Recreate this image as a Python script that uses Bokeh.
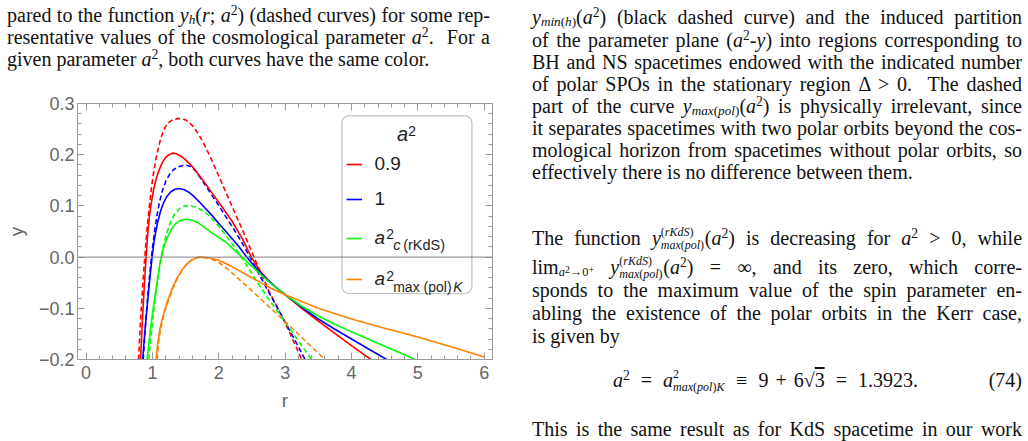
from bokeh.plotting import figure
from bokeh.models import (Div, FixedTicker, CustomJSTickFormatter, LinearAxis, Span,
                          Legend, LegendItem, Label, BoxAnnotation, Range1d)
from bokeh.layouts import row, column
from bokeh.embed import file_html
from bokeh.resources import INLINE

# ---------------- data ----------------
# a^2 = 0.9 : y_pol (solid) and y_h (dashed)
red_pol_r = [0.82, 0.85, 0.875, 0.904, 0.925, 0.95, 0.98, 1.02, 1.06, 1.10, 1.15, 1.20, 1.25, 1.30,
             1.36, 1.43, 1.50, 1.60, 1.75, 1.90, 2.05, 2.20, 2.35, 2.49, 2.62, 2.75, 2.88, 3.0,
             3.25, 3.5, 3.75, 4.0, 4.29]
red_pol_y = [-0.200, -0.120, -0.060, 0.000, 0.040, 0.075, 0.104, 0.134, 0.155, 0.170, 0.185, 0.195, 0.200, 0.203,
             0.202, 0.197, 0.190, 0.177, 0.152, 0.125, 0.098, 0.070, 0.037, 0.000, -0.027, -0.046, -0.061, -0.0734,
             -0.100, -0.125, -0.149, -0.173, -0.200]
red_h_r = [0.79, 0.82, 0.85, 0.875, 0.90, 0.925, 0.953, 0.985, 1.018, 1.06, 1.119, 1.17, 1.22, 1.30, 1.395,
           1.50, 1.596, 1.696, 1.80, 1.898, 2.00, 2.098, 2.20, 2.298, 2.40, 2.53, 2.75, 3.0, 3.25]
red_h_y = [-0.200, -0.125, -0.062, -0.016, 0.026, 0.064, 0.100, 0.136, 0.166, 0.197, 0.229, 0.248, 0.260, 0.268, 0.271,
           0.268, 0.258, 0.240, 0.215, 0.188, 0.158, 0.129, 0.099, 0.070, 0.040, 0.000, -0.065, -0.128, -0.200]

# a^2 = 1
blue_pol_r = [0.852, 0.89, 0.928, 0.96, 0.994, 1.02, 1.044, 1.08, 1.12, 1.17, 1.22, 1.28, 1.34, 1.395,
              1.47, 1.545, 1.62, 1.696, 1.80, 1.90, 1.997, 2.10, 2.20, 2.30, 2.42, 2.55, 2.70, 2.85, 3.0,
              3.25, 3.5, 3.75, 4.0, 4.25, 4.53]
blue_pol_y = [-0.200, -0.138, -0.085, -0.042, 0.000, 0.027, 0.046, 0.069, 0.089, 0.107, 0.119, 0.128, 0.1325, 0.134,
              0.132, 0.127, 0.119, 0.109, 0.095, 0.081, 0.066, 0.051, 0.036, 0.021, 0.000, -0.020, -0.040, -0.058, -0.0734,
              -0.098, -0.121, -0.141, -0.160, -0.179, -0.200]
blue_h_r = [0.86, 0.89, 0.92, 0.95, 0.98, 1.01, 1.04, 1.07, 1.10, 1.15, 1.20, 1.26, 1.32, 1.40, 1.495,
            1.58, 1.66, 1.747, 1.85, 1.997, 2.10, 2.248, 2.349, 2.47, 2.60, 2.75, 2.88, 3.0, 3.15, 3.30]
blue_h_y = [-0.200, -0.142, -0.090, -0.045, -0.006, 0.028, 0.058, 0.083, 0.104, 0.130, 0.148, 0.162, 0.171, 0.177, 0.180,
            0.177, 0.167, 0.150, 0.130, 0.101, 0.080, 0.050, 0.028, 0.000, -0.032, -0.068, -0.098, -0.127, -0.163, -0.200]

# a^2 = a^2_c(rKdS)
green_pol_r = [0.918, 0.96, 1.00, 1.04, 1.08, 1.12, 1.16, 1.20, 1.244, 1.30, 1.345, 1.40, 1.46, 1.52,
               1.60, 1.70, 1.797, 1.90, 2.00, 2.098, 2.20, 2.35, 2.50, 2.65, 2.80, 3.0,
               3.25, 3.5, 3.75, 4.0, 4.25, 4.5, 4.75, 4.96]
green_pol_y = [-0.200, -0.152, -0.111, -0.075, -0.040, -0.007, 0.015, 0.031, 0.044, 0.057, 0.065, 0.070, 0.073, 0.074,
               0.072, 0.066, 0.057, 0.047, 0.038, 0.030, 0.018, 0.000, -0.018, -0.036, -0.053, -0.0734,
               -0.096, -0.115, -0.131, -0.146, -0.160, -0.174, -0.188, -0.200]
green_h_r = [0.943, 0.98, 1.02, 1.06, 1.10, 1.14, 1.169, 1.21, 1.25, 1.295, 1.35, 1.42, 1.48, 1.545,
             1.65, 1.75, 1.846, 1.95, 2.098, 2.25, 2.40, 2.55, 2.75, 3.0, 3.2, 3.40]
green_h_y = [-0.200, -0.152, -0.104, -0.061, -0.024, 0.005, 0.024, 0.045, 0.061, 0.075, 0.087, 0.096, 0.0995, 0.1005,
             0.098, 0.091, 0.082, 0.068, 0.044, 0.017, -0.012, -0.043, -0.082, -0.127, -0.164, -0.200]

# a^2 = a^2_max(pol)K
orange_pol_r = [1.054, 1.08, 1.11, 1.14, 1.18, 1.23, 1.295, 1.37, 1.446, 1.52, 1.60, 1.67, 1.74,
                1.85, 1.95, 2.05, 2.15, 2.25, 2.37, 2.50, 2.65, 2.80, 3.0, 3.5, 4.0, 4.5, 5.0, 5.5, 6.0]
orange_pol_y = [-0.200, -0.168, -0.142, -0.124, -0.105, -0.085, -0.062, -0.041, -0.025, -0.013, -0.005, -0.001, 0.000,
                -0.0012, -0.0042, -0.009, -0.0155, -0.0225, -0.031, -0.0405, -0.0513, -0.0618, -0.0734,
                -0.100, -0.121, -0.139, -0.156, -0.175, -0.195]
orange_h_r = [1.07, 1.09, 1.12, 1.15, 1.19, 1.24, 1.30, 1.37, 1.45, 1.52, 1.60, 1.67, 1.74,
              1.85, 1.95, 2.05, 2.15, 2.25, 2.37, 2.50, 2.75, 3.0, 3.25, 3.60]
orange_h_y = [-0.200, -0.170, -0.142, -0.124, -0.105, -0.085, -0.063, -0.043, -0.025, -0.013, -0.005, -0.001, 0.000,
              -0.0025, -0.007, -0.015, -0.025, -0.037, -0.051, -0.066, -0.096, -0.126, -0.157, -0.200]

x_ticks = [0, 1, 2, 3, 4, 5, 6]
y_ticks = [-0.2, -0.1, 0.0, 0.1, 0.2, 0.3]
legend_values = ["0.9", "1"]

# ---------------- styling ----------------
SANS = "Liberation Sans"
FRAME = "#9a9a9a"
TICKTXT = "#666666"
RED, BLUE, GREEN, ORANGE = "#ff0000", "#0000ff", "#00ff00", "#ff8000"
LW = 1.6
DASH = "5 3"

p = figure(width=520, height=349, x_range=Range1d(-0.13, 6.125), y_range=Range1d(-0.2, 0.3),
           output_backend="svg", toolbar_location=None,
           min_border_left=77, min_border_right=28, min_border_top=33, min_border_bottom=60,
           background_fill_color="white", border_fill_color="white")
p.grid.visible = False
p.outline_line_color = FRAME

x_minor = [round(0.2 * k, 2) for k in range(0, 31) if k % 5]
y_minor = [round(-0.2 + 0.02 * k, 3) for k in range(0, 26) if k % 5]
xt = FixedTicker(ticks=x_ticks, minor_ticks=x_minor)
yt = FixedTicker(ticks=y_ticks, minor_ticks=y_minor)
blank = CustomJSTickFormatter(code="return ''")
yfmt = CustomJSTickFormatter(code="return (tick < -1e-9 ? '\u2212' : '') + Math.abs(tick).toFixed(1);")
xfmt = CustomJSTickFormatter(code="return tick.toFixed(0);")


def style_axis(ax):
    ax.axis_line_color = FRAME
    ax.major_tick_line_color = FRAME
    ax.minor_tick_line_color = FRAME
    ax.major_tick_in = 7
    ax.major_tick_out = 0
    ax.minor_tick_in = 4
    ax.minor_tick_out = 0
    ax.major_label_text_font = SANS
    ax.major_label_text_font_size = "18px"
    ax.major_label_text_color = TICKTXT
    ax.axis_label_text_font = SANS
    ax.axis_label_text_font_size = "19px"
    ax.axis_label_text_font_style = "normal"
    ax.axis_label_text_color = TICKTXT


xa = p.xaxis[0]
ya = p.yaxis[0]
xa.ticker, xa.formatter, xa.axis_label = xt, xfmt, "r"
ya.ticker, ya.formatter, ya.axis_label = yt, yfmt, "y"
style_axis(xa)
style_axis(ya)
xa.major_label_standoff = 6
xa.axis_label_standoff = 8
ya.major_label_standoff = 3
ya.axis_label_standoff = 9

top_ax = LinearAxis(ticker=xt, formatter=blank)
right_ax = LinearAxis(ticker=yt, formatter=blank)
style_axis(top_ax)
style_axis(right_ax)
p.add_layout(top_ax, "above")
p.add_layout(right_ax, "right")

p.add_layout(Span(location=0, dimension="width", line_color="#808080", line_width=1))

rh = p.line(red_h_r, red_h_y, line_color=RED, line_width=LW, line_dash=DASH)
bh = p.line(blue_h_r, blue_h_y, line_color=BLUE, line_width=LW, line_dash=DASH)
gh = p.line(green_h_r, green_h_y, line_color=GREEN, line_width=LW, line_dash=DASH)
oh = p.line(orange_h_r, orange_h_y, line_color=ORANGE, line_width=LW, line_dash=DASH)
rp = p.line(red_pol_r, red_pol_y, line_color=RED, line_width=LW)
bp = p.line(blue_pol_r, blue_pol_y, line_color=BLUE, line_width=LW)
gp = p.line(green_pol_r, green_pol_y, line_color=GREEN, line_width=LW)
op = p.line(orange_pol_r, orange_pol_y, line_color=ORANGE, line_width=LW)

# ---------------- legend ----------------
LEGTXT = "#1f1f1f"
common = dict(padding=0, margin=0, label_height=30, glyph_height=30, glyph_width=16,
              label_standoff=12, border_line_alpha=0, background_fill_alpha=0,
              label_text_font=SANS, label_text_font_size="19px", label_text_color=LEGTXT)
legA = Legend(items=[LegendItem(label=legend_values[0], renderers=[rp]),
                     LegendItem(label=legend_values[1], renderers=[bp])],
              location=(269.4, 145.3), spacing=5, **common)
legB = Legend(items=[LegendItem(label="a", renderers=[gp]),
                     LegendItem(label="a", renderers=[op])],
              location=(269.4, 65.3), spacing=11, label_text_font_style="italic", **common)
p.add_layout(legA)
p.add_layout(legB)

p.add_layout(BoxAnnotation(left=264.4, right=394.4, bottom=66, top=243.6,
                           left_units="screen", right_units="screen",
                           bottom_units="screen", top_units="screen",
                           fill_alpha=0, line_color="#333333", line_width=1.2, border_radius=7))


def lab(x, y, text, size, style="normal", align="left", baseline="alphabetic"):
    p.add_layout(Label(x=x, y=y, x_units="screen", y_units="screen", text=text,
                       text_font=SANS, text_font_size=size, text_font_style=style,
                       text_color=LEGTXT, text_align=align, text_baseline=baseline))


# title a^2
lab(325.0, 225.3, "a", "20px", "italic", "center", "middle")
lab(330.7, 229.0, "2", "14px")
# a^2_c(rKdS)
lab(308.7, 125.3, "2", "14px")
lab(315.7, 114.3, "c", "14.5px", "italic")
lab(325.7, 114.3, "(rKdS)", "14.5px")
# a^2_max(pol)K
lab(308.7, 83.6, "2", "14px")
lab(315.7, 72.3, "max (pol)", "14px")
lab(375.7, 72.3, "K", "14px", "italic")

# ---------------- surrounding text of the page ----------------
SERIF = "'Liberation Serif', serif"


def sup(t):
    return f'<span style="font-size:68%;position:relative;top:-0.5em">{t}</span>'


def sub(t, shift=0.15, size=66):
    return f'<span style="font-size:{size}%;position:relative;top:{shift}em">{t}</span>'


def stack(top, bot, w):
    # super- and subscript stacked; positioned absolutely so the line box is not affected
    cs = "position:absolute;left:0;font-size:12px;line-height:12px;white-space:nowrap;"
    return (f'<span style="position:relative;display:inline-block;width:{w}px;height:1px;">'
            f'<span style="{cs}top:-18px;">{top}</span>'
            f'<span style="{cs}top:-5px;">{bot}</span></span>')


A2 = '<i>a</i>' + sup('2')
MAXPOL = '<i>max</i>(<i>pol</i>)'


def line(top, left, width, html, justify=True, extra=""):
    al = "text-align:justify;text-align-last:justify;" if justify else "text-align:left;"
    return (f'<div style="position:absolute;top:{top}px;left:{left}px;width:{width}px;height:22px;'
            f'line-height:22px;white-space:nowrap;{al}{extra}">{html}</div>')


def block(w, h, lines):
    return (f'<div style="position:relative;width:{w}px;height:{h}px;overflow:visible;'
            f'font-family:{SERIF};font-size:20px;color:#111;">' + "".join(lines) + '</div>')


left_lines = [
    line(4, 7, 483, f'pared to the function <i>y</i>{sub("<i>h</i>")}(<i>r</i>; {A2}) (dashed curves) for some rep-'),
    line(26, 7, 483, f'resentative values of the cosmological parameter {A2}.&nbsp; For a'),
    line(48, 7, 483, f'given parameter {A2}, both curves have the same color.', justify=False),
]
top_left = Div(text=block(520, 70, left_lines), width=520, height=70, margin=0)

RL, RW = 12, 490
LIMSUB = '<i>a</i><span style="position:relative;top:-0.35em;font-size:80%">2</span>&rarr;0<span style="position:relative;top:-0.35em;font-size:80%">+</span>'
right_lines = [
    line(6, RL, RW, f'<i>y</i>{sub("<i>min</i>(<i>h</i>)")}({A2}) (black dashed curve) and the induced partition'),
    line(29, RL, RW, f'of the parameter plane ({A2}-<i>y</i>) into regions corresponding to'),
    line(51, RL, RW, 'BH and NS spacetimes endowed with the indicated number'),
    line(73, RL, RW, 'of polar SPOs in the stationary region &Delta; &gt; 0.&nbsp; The dashed'),
    line(95, RL, RW, f'part of the curve <i>y</i>{sub(MAXPOL)}({A2}) is physically irrelevant, since'),
    line(117, RL, RW, 'it separates spacetimes with two polar orbits beyond the cos-'),
    line(139, RL, RW, 'mological horizon from spacetimes without polar orbits, so'),
    line(161, RL, RW, 'effectively there is no difference between them.', justify=False),
    line(227, RL, RW, f'The function <i>y</i>{stack("(<i>rKdS</i>)", MAXPOL, 44)}({A2}) is decreasing for {A2} &gt; 0, while'),
    line(256, RL, RW, f'lim{sub(LIMSUB, 0.2, 62)} <i>y</i>{stack("(<i>rKdS</i>)", MAXPOL, 44)}({A2}) = &infin;, and its zero, which corre-'),
    line(279, RL, RW, 'sponds to the maximum value of the spin parameter en-'),
    line(302, RL, RW, 'abling the existence of the polar orbits in the Kerr case,'),
    line(325, RL, RW, 'is given by', justify=False),
    line(369, 93, 330, f'{A2}&thinsp; = &thinsp;<i>a</i>{stack("2", "<i>max</i>(<i>pol</i>)<i>K</i>", 52)}&thinsp; &equiv; &thinsp;9 + 6&radic;<span style="text-decoration:overline">3</span>&thinsp; = &thinsp;1.3923.',
         justify=False, extra="word-spacing:2px;"),
    line(369, 420, 82, '(74)', justify=False, extra="text-align:right;"),
    line(418, RL, RW, 'This is the same result as for KdS spacetime in our work'),
]
right = Div(text=block(508, 441, right_lines), width=508, height=441, margin=0)

layout = row(column(top_left, p, spacing=0), right, spacing=0)

open("out.html", "w").write(file_html(layout, INLINE))
